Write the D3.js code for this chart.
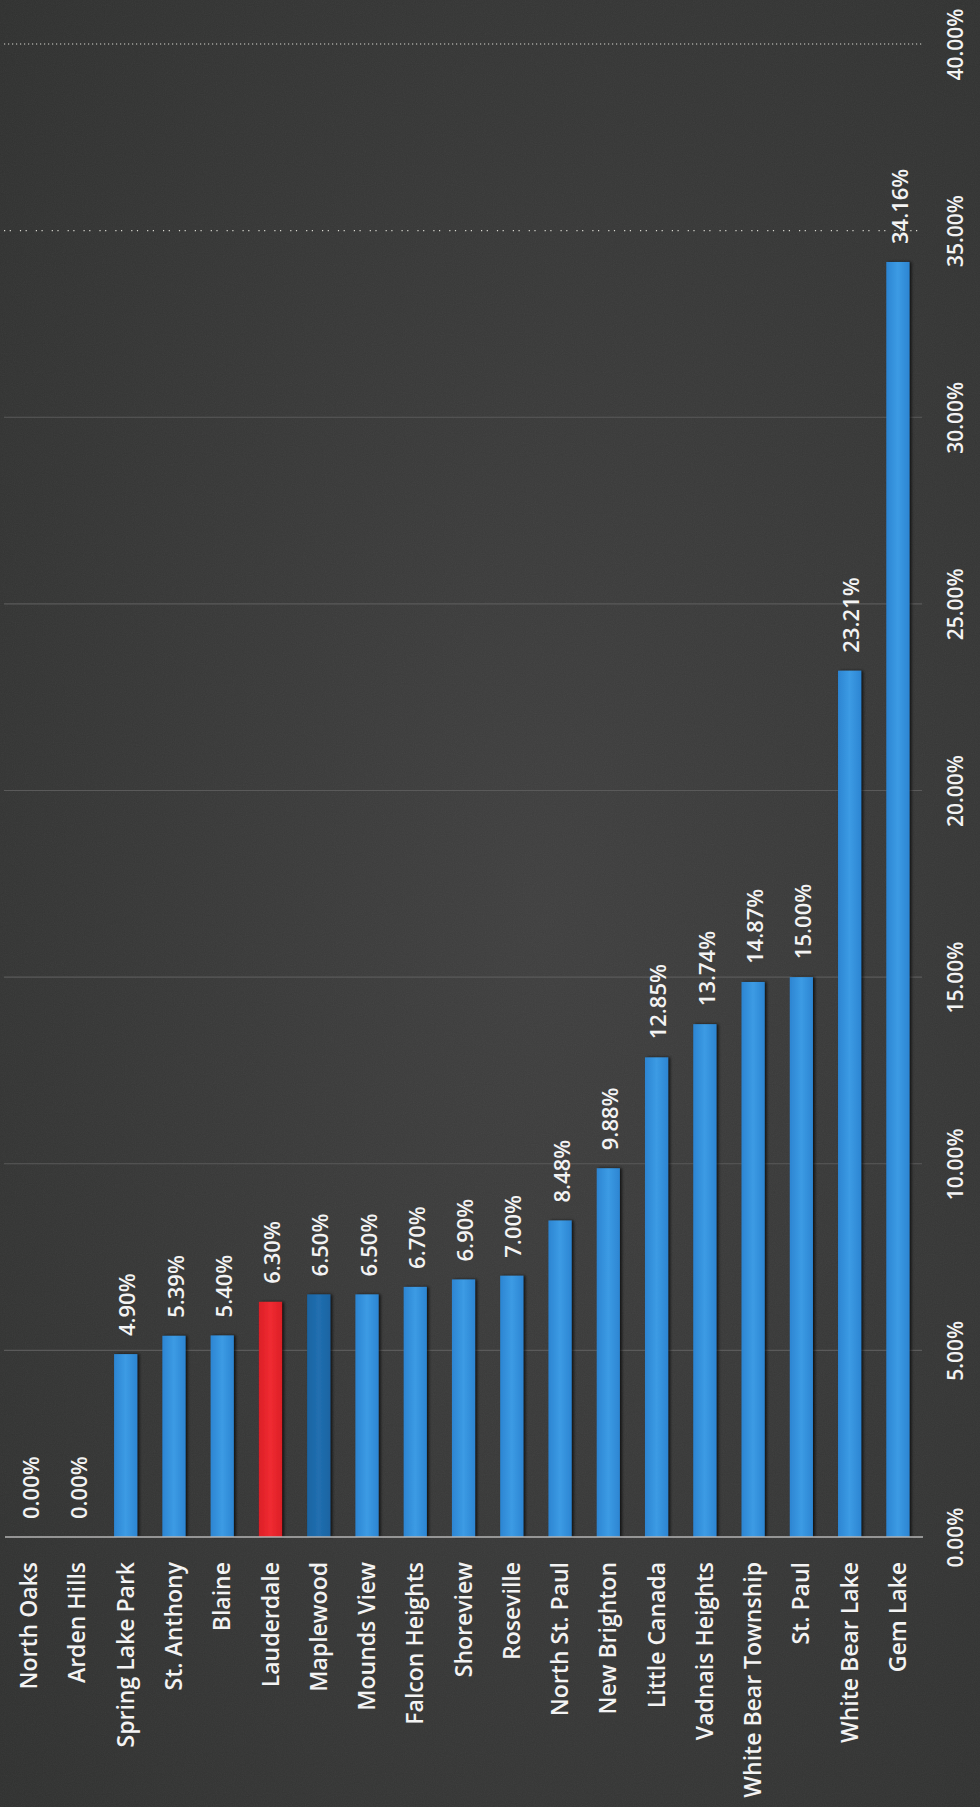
<!DOCTYPE html>
<html>
<head>
<meta charset="utf-8">
<script src="https://cdn.jsdelivr.net/npm/d3@7"></script>
<style>
  body { margin: 0; background: #3a3a3a; }
  svg { display: block; }
  text { font-family: "Open Sans", sans-serif; fill: #f3f3f3; font-weight: 600; }
</style>
</head>
<body>
<svg width="980" height="1807"></svg>
<script>
// data
var cities = ["North Oaks", "Arden Hills", "Spring Lake Park", "St. Anthony", "Blaine",
    "Lauderdale", "Maplewood", "Mounds View", "Falcon Heights", "Shoreview", "Roseville",
    "North St. Paul", "New Brighton", "Little Canada", "Vadnais Heights",
    "White Bear Township", "St. Paul", "White Bear Lake", "Gem Lake"];
var rates = [0, 0, 4.90, 5.39, 5.40, 6.30, 6.50, 6.50, 6.70, 6.90, 7.00,
    8.48, 9.88, 12.85, 13.74, 14.87, 15.00, 23.21, 34.16];
var tickVals = [0, 5, 10, 15, 20, 25, 30, 35, 40];
var highlight = "Lauderdale";
var secondary = "Maplewood";

var svg = d3.select("svg");
var W = +svg.attr("width"), H = +svg.attr("height");

var data = cities.map((c, i) => ({ city: c, v: rates[i] }));

var defs = svg.append("defs");
var bg = defs.append("radialGradient").attr("id", "bg")
    .attr("cx", "55%").attr("cy", "50%").attr("r", "75%");
bg.append("stop").attr("offset", "0%").attr("stop-color", "#404040");
bg.append("stop").attr("offset", "100%").attr("stop-color", "#303130");

// horizontal shading on the bars
var makeGrad = function(id, a, b) {
    var g = defs.append("linearGradient").attr("id", id)
        .attr("x1", "0%").attr("x2", "100%");
    g.append("stop").attr("offset", "0%").attr("stop-color", a);
    g.append("stop").attr("offset", "50%").attr("stop-color", b);
    g.append("stop").attr("offset", "100%").attr("stop-color", a);
};
makeGrad("blue", "#2c85d2", "#3c9be4");
makeGrad("red", "#dc1f27", "#f02b31");
makeGrad("dblue", "#1a64a2", "#216fb0");

var sh = defs.append("filter").attr("id", "shadow")
    .attr("x", "-30%").attr("width", "160%");
sh.append("feDropShadow").attr("dx", 2).attr("dy", 0)
    .attr("stdDeviation", 1.5).attr("flood-color", "#000").attr("flood-opacity", 0.7);

var grain = defs.append("filter").attr("id", "grain");
grain.append("feTurbulence").attr("type", "fractalNoise")
    .attr("baseFrequency", 0.9).attr("numOctaves", 2).attr("seed", 3);
grain.append("feColorMatrix").attr("type", "saturate").attr("values", 0);

svg.append("rect").attr("width", W).attr("height", H).attr("fill", "url(#bg)");
svg.append("rect").attr("width", W).attr("height", H)
    .attr("filter", "url(#grain)").attr("opacity", 0.06);

var x = d3.scaleBand().domain(cities).range([5, 922])
    .paddingInner(0.52).paddingOuter(0.26);
var y = d3.scaleLinear().domain([0, 40]).range([1537, 44]);

// gridlines, the two top ones dotted
svg.append("g").selectAll("line")
    .data(tickVals.filter(t => t > 0)).enter()
    .append("line")
    .attr("x1", 4).attr("x2", 922)
    .attr("y1", d => y(d)).attr("y2", d => y(d))
    .attr("stroke", d => d >= 35 ? "#d8d8d0" : "#5a5a5a")
    .attr("stroke-width", 1.2)
    .attr("stroke-dasharray", d => d == 40 ? "1.2,2.8" : d == 35 ? "1.2,4.5,1.2,9" : null);

// bars
svg.append("g").selectAll("rect")
    .data(data).enter()
    .append("rect")
    .attr("x", d => x(d.city))
    .attr("width", x.bandwidth())
    .attr("y", d => y(d.v))
    .attr("height", d => y(0) - y(d.v))
    .attr("fill", d => d.city === highlight ? "url(#red)"
        : d.city === secondary ? "url(#dblue)" : "url(#blue)")
    .attr("filter", "url(#shadow)");

// baseline
svg.append("line").attr("x1", 5).attr("x2", 923)
    .attr("y1", y(0)).attr("y2", y(0))
    .attr("stroke", "#b4b4b4").attr("stroke-width", 1.6);

// value labels above the bars, turned like the rest of the chart
svg.append("g").selectAll("text")
    .data(data).enter()
    .append("text")
    .attr("transform", d => "translate(" + (x(d.city) + x.bandwidth() / 2 + 2) + ","
        + (y(d.v) - 18) + ") rotate(-90)")
    .attr("dy", "0.35em")
    .attr("font-size", 22)
    .text(d => d.v.toFixed(2) + "%");

// category labels
var xAx = svg.append("g").attr("transform", "translate(0,1562)")
    .call(d3.axisBottom(x).tickSize(0).tickPadding(0));
xAx.select(".domain").remove();
xAx.selectAll("text")
    .attr("y", 0).attr("dy", "0.35em")
    .attr("transform", "rotate(-90)")
    .attr("text-anchor", "end")
    .attr("font-size", 23)
    .attr("fill", "#f3f3f3")
    .attr("font-family", null);

// value axis on the right
var yAx = svg.append("g").attr("transform", "translate(956,0)")
    .call(d3.axisRight(y).tickValues(tickVals)
        .tickFormat(d => d.toFixed(2) + "%").tickSize(0).tickPadding(0));
yAx.select(".domain").remove();
yAx.selectAll("text")
    .attr("x", 0).attr("dy", "0.35em")
    .attr("transform", "rotate(-90)")
    .attr("text-anchor", "middle")
    .attr("font-size", 21)
    .attr("fill", "#f3f3f3")
    .attr("font-family", null);
</script>
</body>
</html>
